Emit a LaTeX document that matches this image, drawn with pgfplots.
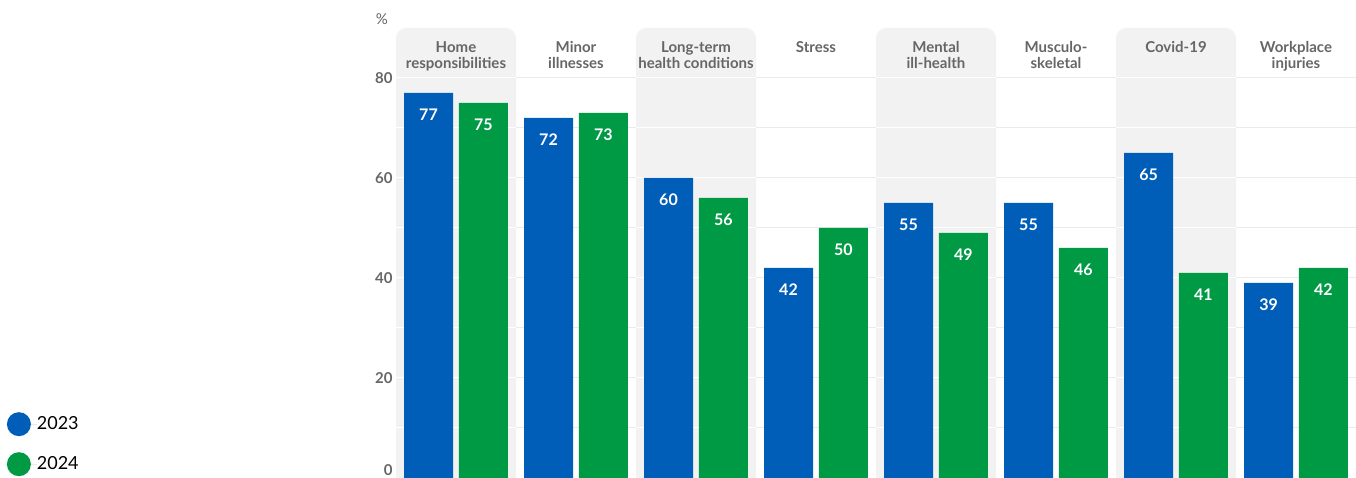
\documentclass[border=0pt]{standalone}
\usepackage{fontspec}
\setmainfont{Lato}
\usepackage{pgfplots}
\pgfplotsset{compat=1.18}
\definecolor{c23}{HTML}{005EB8}
\definecolor{c24}{HTML}{009A44}
\definecolor{band}{HTML}{F2F2F2}
\definecolor{gridc}{HTML}{EBEBEB}
\definecolor{txt}{HTML}{666666}
\newcommand{\cat}[3]{%
  \node[anchor=base, inner sep=0pt, text=txt, font=\fontsize{15}{17}\selectfont\bfseries] at (axis cs:#1,85) {#2};
  \node[anchor=base, inner sep=0pt, text=txt, font=\fontsize{15}{17}\selectfont\bfseries] at (axis cs:#1,81.8) {#3};}
\begin{document}
\begin{tikzpicture}[x=1pt,y=1pt]
\useasboundingbox (0,0) rectangle (1356,478);
\begin{axis}[
  at={(396pt,0pt)}, anchor=south west,
  scale only axis, width=960pt, height=450pt,
  xmin=-0.5, xmax=7.5, ymin=0, ymax=90,
  axis line style={draw=none},
  tick style={draw=none},
  xtick=\empty,
  ytick={20,40,60,80},
  minor ytick={10,30,50,70},
  extra y ticks={0},
  extra y tick style={ymajorgrids=false, yticklabel style={yshift=8pt}},
  ymajorgrids, yminorgrids,
  major grid style={draw=gridc, line width=1pt},
  minor grid style={draw=gridc, line width=1pt},
  /pgf/number format/assume math mode=true,
  yticklabel style={font=\fontsize{15}{18}\selectfont\bfseries, text=txt},
  clip=true,
  legend style={at={(-0.4055,0.1467)}, anchor=north west, draw=none, fill=none,
    font=\fontsize{18}{20}\selectfont, row sep=16pt, inner sep=0pt,
    nodes={inner sep=0pt}},
  legend cell align=left,
]
\pgfplotsinvokeforeach{0,2,4,6}{
  \fill[band, rounded corners=10pt] (axis cs:#1-0.5,-5) rectangle (axis cs:#1+0.5,90);
}
\pgfplotsinvokeforeach{10,20,...,80}{
  \draw[white, line width=1pt] (axis cs:-0.5,#1) -- (axis cs:0.5,#1)
     (axis cs:1.5,#1) -- (axis cs:2.5,#1)
     (axis cs:3.5,#1) -- (axis cs:4.5,#1)
     (axis cs:5.5,#1) -- (axis cs:6.5,#1);
}
\addplot[ybar, bar width=49pt, bar shift=0pt, fill=c23, draw=none,
  nodes near coords,
  every node near coord/.append style={anchor=center, yshift=-22pt, text=white,
     font=\fontsize{16}{18}\selectfont\bfseries},
  legend image code/.code={\fill[c23] (0pt,0pt) circle (12pt); \path (-12pt,0pt) -- (18pt,0pt);}]
  coordinates {(-0.229,77) (0.771,72) (1.771,60) (2.771,42) (3.771,55) (4.771,55) (5.771,65) (6.771,39)};
\addlegendentry{2023}
\addplot[ybar, bar width=49pt, bar shift=0pt, fill=c24, draw=none,
  nodes near coords,
  every node near coord/.append style={anchor=center, yshift=-22pt, text=white,
     font=\fontsize{16}{18}\selectfont\bfseries},
  legend image code/.code={\fill[c24] (0pt,0pt) circle (12pt); \path (-12pt,0pt) -- (18pt,0pt);}]
  coordinates {(0.229,75) (1.229,73) (2.229,56) (3.229,50) (4.229,49) (5.229,46) (6.229,41) (7.229,42)};
\addlegendentry{2024}
\cat{0}{Home}{responsibilities}
\cat{1}{Minor}{illnesses}
\cat{2}{Long-term}{health conditions}
\cat{3}{Stress}{}
\cat{4}{Mental}{ill-health}
\cat{5}{Musculo-}{skeletal}
\cat{6}{Covid-19}{}
\cat{7}{Workplace}{injuries}
\end{axis}
\node[text=txt, font=\fontsize{15}{17}\selectfont] at (382,459) {\%};
\end{tikzpicture}
\end{document}
